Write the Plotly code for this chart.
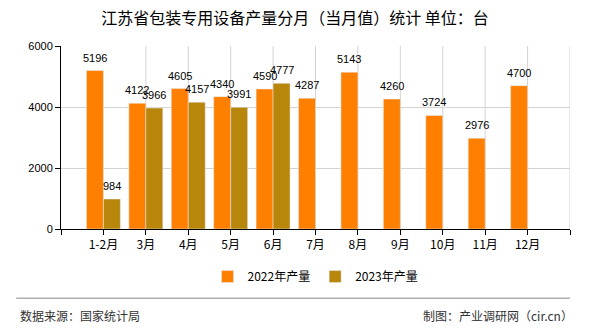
import plotly.graph_objects as go

categories = ["1-2月", "3月", "4月", "5月", "6月", "7月", "8月", "9月", "10月", "11月", "12月"]
values_2022 = [5196, 4122, 4605, 4340, 4590, 4287, 5143, 4260, 3724, 2976, 4700]
values_2023 = [984, 3966, 4157, 3991, 4777]
series_names = ["2022年产量", "2023年产量"]
colors = ["#FF8000", "#B8860B"]
y_ticks = [0, 2000, 4000, 6000]

xpos = list(range(1, len(categories) + 1))
font_cn = "Noto Sans CJK SC, Liberation Sans, sans-serif"

fig = go.Figure()
fig.add_trace(go.Bar(x=xpos, y=values_2022, name=series_names[0], marker_color=colors[0],
                     offset=-0.4, width=0.4))
fig.add_trace(go.Bar(x=xpos[:len(values_2023)], y=values_2023, name=series_names[1],
                     marker_color=colors[1], offset=0.0, width=0.4))

annotations = []
for xs, vals in ((xpos, values_2022), (xpos[:len(values_2023)], values_2023)):
    off = -0.2 if vals is values_2022 else 0.2
    for x, v in zip(xs, vals):
        annotations.append(dict(x=x + off, y=v, text=str(v), showarrow=False, xref="x", yref="y",
                                yshift=13, font=dict(size=11, color="#000000",
                                                     family="Liberation Sans, Arial, sans-serif")))

shapes = []
for k in range(2, len(categories) + 2):
    shapes.append(dict(type="line", xref="x", yref="y", x0=k, x1=k, y0=0, y1=y_ticks[-1],
                       line=dict(color="#D3D3D3", width=1), layer="below"))
# footer separator
shapes.append(dict(type="line", xref="paper", yref="paper", x0=-0.088, x1=1.0, y0=-0.378, y1=-0.378,
                   line=dict(color="#888888", width=1)))

annotations.append(dict(text="数据来源：国家统计局", xref="paper", yref="paper", x=-0.084, y=-0.475,
                        xanchor="left", yanchor="middle", showarrow=False,
                        font=dict(size=12, color="#333333", family=font_cn)))
annotations.append(dict(text="制图：产业调研网（cir.cn）", xref="paper", yref="paper", x=1.01, y=-0.475,
                        xanchor="right", yanchor="middle", showarrow=False,
                        font=dict(size=12, color="#333333", family=font_cn)))

fig.update_layout(
    width=590, height=330,
    margin=dict(l=61, r=20, t=46, b=101),
    paper_bgcolor="white", plot_bgcolor="white",
    title=dict(text="江苏省包装专用设备产量分月（当月值）统计 单位：台", x=0.5, xanchor="center",
               y=0.945, yanchor="middle", font=dict(size=16, color="#000000", family=font_cn)),
    barmode="overlay",
    showlegend=True,
    legend=dict(orientation="h", x=0.5, xanchor="center", y=-0.26, yanchor="middle",
                font=dict(size=12, color="#000000", family=font_cn), itemwidth=30),
    annotations=annotations,
    shapes=shapes,
    xaxis=dict(range=[0, len(categories) + 1], tickvals=list(range(0, len(categories) + 2)),
               ticktext=[""] + categories + [""], showgrid=False, showline=True,
               linecolor="#000000", linewidth=1, ticks="outside", ticklen=5, tickcolor="#000000",
               tickfont=dict(size=12, color="#000000", family=font_cn), zeroline=False),
    yaxis=dict(range=[0, y_ticks[-1]], tickvals=y_ticks, showgrid=True, gridcolor="#D3D3D3",
               showline=True, linecolor="#000000", linewidth=1, ticks="outside", ticklen=5,
               tickcolor="#000000", zeroline=False,
               tickfont=dict(size=11, color="#000000", family="Liberation Sans, Arial, sans-serif")),
)

fig.write_html("out.html")
